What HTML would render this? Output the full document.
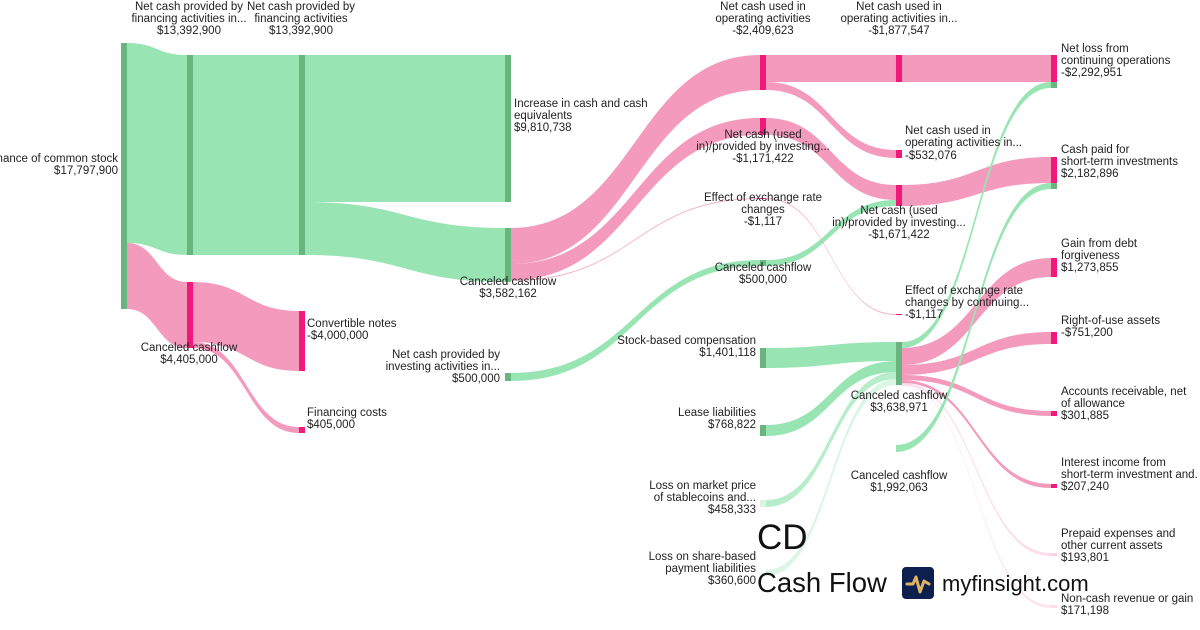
<!DOCTYPE html>
<html><head><meta charset="utf-8"><style>
html,body{margin:0;padding:0;background:#fff;}
svg{display:block;font-family:"Liberation Sans",sans-serif;}
text{font-size:11.5px;fill:#222;}
</style></head><body>
<svg id="s" width="1200" height="630" xmlns="http://www.w3.org/2000/svg">
<g id="links"></g>
<g id="nodes"></g>
<g id="labels">
<text x="118" y="162" text-anchor="end">nance of common stock</text>
<text x="118" y="174" text-anchor="end">$17,797,900</text>
<text x="189" y="10" text-anchor="middle">Net cash provided by</text>
<text x="189" y="22" text-anchor="middle">financing activities in...</text>
<text x="189" y="34" text-anchor="middle">$13,392,900</text>
<text x="301" y="10" text-anchor="middle">Net cash provided by</text>
<text x="301" y="22" text-anchor="middle">financing activities</text>
<text x="301" y="34" text-anchor="middle">$13,392,900</text>
<text x="189" y="351" text-anchor="middle">Canceled cashflow</text>
<text x="189" y="363" text-anchor="middle">$4,405,000</text>
<text x="307" y="327">Convertible notes</text>
<text x="307" y="339">-$4,000,000</text>
<text x="307" y="416">Financing costs</text>
<text x="307" y="428">$405,000</text>
<text x="514" y="107">Increase in cash and cash</text>
<text x="514" y="119">equivalents</text>
<text x="514" y="131">$9,810,738</text>
<text x="508" y="285" text-anchor="middle">Canceled cashflow</text>
<text x="508" y="297" text-anchor="middle">$3,582,162</text>
<text x="500" y="358" text-anchor="end">Net cash provided by</text>
<text x="500" y="370" text-anchor="end">investing activities in...</text>
<text x="500" y="382" text-anchor="end">$500,000</text>
<text x="763" y="10" text-anchor="middle">Net cash used in</text>
<text x="763" y="22" text-anchor="middle">operating activities</text>
<text x="763" y="34" text-anchor="middle">-$2,409,623</text>
<text x="763" y="138" text-anchor="middle">Net cash (used</text>
<text x="763" y="150" text-anchor="middle">in)/provided by investing...</text>
<text x="763" y="162" text-anchor="middle">-$1,171,422</text>
<text x="763" y="201" text-anchor="middle">Effect of exchange rate</text>
<text x="763" y="213" text-anchor="middle">changes</text>
<text x="763" y="225" text-anchor="middle">-$1,117</text>
<text x="763" y="271" text-anchor="middle">Canceled cashflow</text>
<text x="763" y="283" text-anchor="middle">$500,000</text>
<text x="756" y="344" text-anchor="end">Stock-based compensation</text>
<text x="756" y="356" text-anchor="end">$1,401,118</text>
<text x="756" y="416" text-anchor="end">Lease liabilities</text>
<text x="756" y="428" text-anchor="end">$768,822</text>
<text x="756" y="489" text-anchor="end">Loss on market price</text>
<text x="756" y="501" text-anchor="end">of stablecoins and...</text>
<text x="756" y="513" text-anchor="end">$458,333</text>
<text x="756" y="560" text-anchor="end">Loss on share-based</text>
<text x="756" y="572" text-anchor="end">payment liabilities</text>
<text x="756" y="584" text-anchor="end">$360,600</text>
<text x="899" y="10" text-anchor="middle">Net cash used in</text>
<text x="899" y="22" text-anchor="middle">operating activities in...</text>
<text x="899" y="34" text-anchor="middle">-$1,877,547</text>
<text x="905" y="134">Net cash used in</text>
<text x="905" y="146">operating activities in...</text>
<text x="905" y="159">-$532,076</text>
<text x="899" y="214" text-anchor="middle">Net cash (used</text>
<text x="899" y="226" text-anchor="middle">in)/provided by investing...</text>
<text x="899" y="238" text-anchor="middle">-$1,671,422</text>
<text x="905" y="294">Effect of exchange rate</text>
<text x="905" y="306">changes by continuing...</text>
<text x="905" y="318">-$1,117</text>
<text x="899" y="399" text-anchor="middle">Canceled cashflow</text>
<text x="899" y="411" text-anchor="middle">$3,638,971</text>
<text x="899" y="479" text-anchor="middle">Canceled cashflow</text>
<text x="899" y="491" text-anchor="middle">$1,992,063</text>
<text x="1061" y="52">Net loss from</text>
<text x="1061" y="64">continuing operations</text>
<text x="1061" y="76">-$2,292,951</text>
<text x="1061" y="153">Cash paid for</text>
<text x="1061" y="165">short-term investments</text>
<text x="1061" y="177">$2,182,896</text>
<text x="1061" y="247">Gain from debt</text>
<text x="1061" y="259">forgiveness</text>
<text x="1061" y="271">$1,273,855</text>
<text x="1061" y="324">Right-of-use assets</text>
<text x="1061" y="336">-$751,200</text>
<text x="1061" y="395">Accounts receivable, net</text>
<text x="1061" y="407">of allowance</text>
<text x="1061" y="419">$301,885</text>
<text x="1061" y="466">Interest income from</text>
<text x="1061" y="478">short-term investment and.</text>
<text x="1061" y="490">$207,240</text>
<text x="1061" y="537">Prepaid expenses and</text>
<text x="1061" y="549">other current assets</text>
<text x="1061" y="561">$193,801</text>
<text x="1061" y="602">Non-cash revenue or gain</text>
<text x="1061" y="614">$171,198</text>
</g>
<text x="757" y="549" style="font-size:35px;fill:#111">CD</text>
<text x="757" y="592" style="font-size:27.5px;fill:#111">Cash Flow</text>
<rect x="902" y="567" width="32" height="32" rx="4" fill="#0c1f4f"/>
<path d="M907 584 L913 584 L916 577 L920 592 L924 581 L929 584" fill="none" stroke="#e0b463" stroke-width="3" stroke-linecap="round" stroke-linejoin="round"/>
<text x="942" y="591" style="font-size:22px;fill:#111">myfinsight.com</text>
</svg>
<script>
var G='#98e5b3',P='#f39abd',GN='#6ab47f',PN='#f0197a';
var ns='http://www.w3.org/2000/svg';
function L(x1,a1,b1,x2,a2,b2,c,o){var m=(x1+x2)/2,p=document.createElementNS(ns,'path');
p.setAttribute('d','M'+x1+' '+a1+' C'+m+' '+a1+' '+m+' '+a2+' '+x2+' '+a2+' L'+x2+' '+b2+' C'+m+' '+b2+' '+m+' '+b1+' '+x1+' '+b1+' Z');
p.setAttribute('fill',c);p.setAttribute('fill-opacity',o||1);document.getElementById('links').appendChild(p);}
function N(x,y1,y2,c,o){var r=document.createElementNS(ns,'rect');r.setAttribute('x',x);r.setAttribute('y',y1);r.setAttribute('width',6);r.setAttribute('height',Math.max(1,y2-y1));r.setAttribute('fill',c);r.setAttribute('fill-opacity',o||1);document.getElementById('nodes').appendChild(r);}
L(127,43,243,187,55,255,G);L(127,243,309,187,282,348,P);
L(193,55,255,299,55,255,G);L(193,282,342,299,311,371,P);L(193,342,348,299,427,433,P);
L(305,55,202,505,55,202,G);L(305,202,255,505,228,282,G);
L(511,228,264,760,55,90,P);L(511,264,280,760,118,135,P);L(511,280,281,760,198,199,P,.8);
L(511,373,381,760,260,266,G);
L(766,55,82,896,55,82,P);L(766,82,90,896,150,158,P);
L(766,118,135,896,185,200,P);L(766,260,266,896,200,206,G);L(766,198,199,896,314,315,P,.8);
L(902,55,82,1051,55,82,P);L(902,185,206,1051,157,183,P);
L(902,342,348,1051,82,88,G);L(902,348,365,1051,258,277,P);L(902,365,375,1051,332,344,P);
L(902,375,380,1051,411,416,P);L(902,380,383,1051,484,488,P);L(902,383,385,1051,553,556,P,.35);L(902,385,386,1051,605,608,P,.25);
L(896,445,452,1051,183,189,G);
L(766,348,368,896,342,361,G);L(766,425,436,896,361,372,G);L(766,500,507,896,372,379,G,.7);L(766,570,576,896,379,385,G,.35);
N(121,43,309,GN);N(187,55,255,GN);N(187,282,348,PN);N(299,55,255,GN);N(299,311,371,PN);N(299,427,433,PN);
N(505,55,202,GN);N(505,228,282,GN);N(505,373,381,GN);
N(760,55,90,PN);N(760,118,135,PN);N(760,198,199,PN);N(760,260,266,GN);N(760,348,368,GN);N(760,425,436,GN);N(760,500,507,GN,.2);
N(896,55,82,PN);N(896,150,158,PN);N(896,185,206,PN);N(896,314,315,PN);N(896,342,385,GN);
N(1051,55,82,PN);N(1051,82,88,GN);N(1051,157,183,PN);N(1051,183,189,GN);N(1051,258,277,PN);N(1051,332,344,PN);
N(1051,411,416,PN);N(1051,484,488,PN);N(1051,553,556,PN,.2);N(1051,605,608,PN,.15);
</script>
</body></html>
